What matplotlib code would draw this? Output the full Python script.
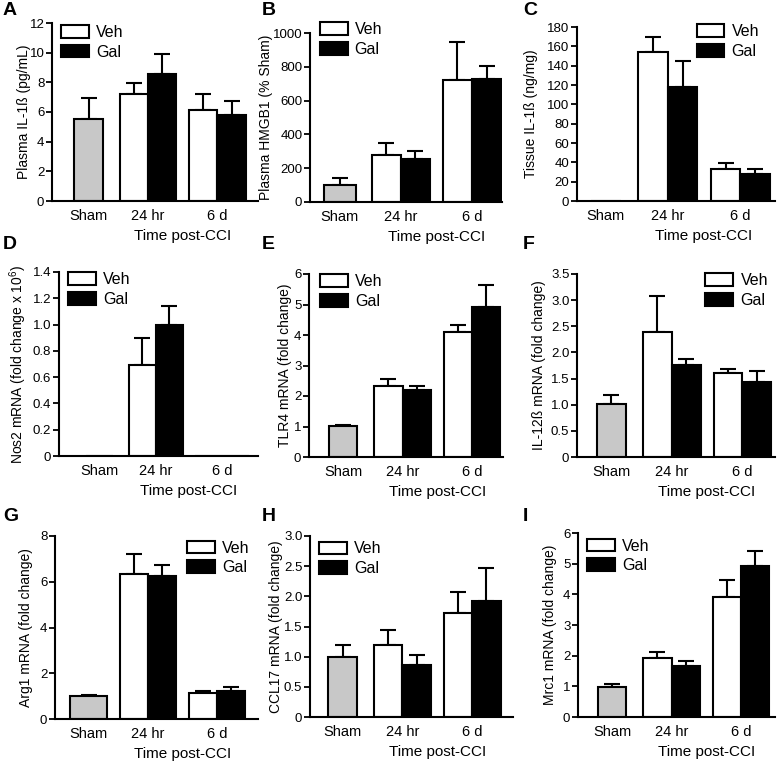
import matplotlib

matplotlib.use("Agg")
import matplotlib.pyplot as plt
from matplotlib.patches import Patch
from matplotlib.ticker import FuncFormatter, MultipleLocator

plt.rcParams["font.family"] = ["Liberation Sans", "DejaVu Sans"]
plt.rcParams["mathtext.fontset"] = "custom"
plt.rcParams["mathtext.rm"] = "Liberation Sans"

# bar order in every panel: Sham, Veh 24 hr, Gal 24 hr, Veh 6 d, Gal 6 d
GROUP_LABELS = ["Sham", "24 hr", "6 d"]
LEGEND_LABELS = ["Veh", "Gal"]

PLASMA_IL1B_MEAN = [5.54, 7.20, 8.56, 6.15, 5.77]
PLASMA_IL1B_SEM = [1.39, 0.78, 1.38, 1.09, 0.96]
PLASMA_HMGB1_MEAN = [99, 277, 255, 723, 729]
PLASMA_HMGB1_SEM = [44, 75, 46, 224, 75]
TISSUE_IL1B_MEAN = [0, 154.5, 117.7, 33.3, 28.1]
TISSUE_IL1B_SEM = [0, 15.5, 27.1, 5.6, 4.5]
NOS2_MEAN = [0, 0.69, 0.995, 0, 0]
NOS2_SEM = [0, 0.21, 0.15, 0, 0]
TLR4_MEAN = [1.01, 2.32, 2.20, 4.09, 4.93]
TLR4_SEM = [0.03, 0.25, 0.14, 0.24, 0.71]
IL12B_MEAN = [1.01, 2.39, 1.76, 1.61, 1.44]
IL12B_SEM = [0.17, 0.69, 0.12, 0.08, 0.21]
ARG1_MEAN = [0.99, 6.33, 6.23, 1.13, 1.22]
ARG1_SEM = [0.04, 0.88, 0.50, 0.11, 0.16]
CCL17_MEAN = [0.99, 1.19, 0.86, 1.72, 1.92]
CCL17_SEM = [0.21, 0.25, 0.17, 0.36, 0.55]
MRC1_MEAN = [0.98, 1.92, 1.67, 3.90, 4.91]
MRC1_SEM = [0.08, 0.20, 0.15, 0.57, 0.51]

W, H = 780, 762
BAR_X = [0, 1.6, 2.6, 4.05, 5.05]
GROUP_X = [0, 2.1, 4.55]
FACES = ["#c8c8c8", "white", "black", "white", "black"]

PANELS = [
    # letter, letter pos, axes px box, data, ymax, step, decimals, ylabel, ylabel offset px,
    # xlim, legend (loc, x, y), sham width
    ("A", (3, 2), (52, 23, 258, 201), PLASMA_IL1B_MEAN, PLASMA_IL1B_SEM, 12, 2, 0,
     "Plasma IL-1ß (pg/mL)", 27, (-1.29, 5.98), ("upper left", 0.044, 0.99), 1.0),
    ("B", (262, 2), (310, 33, 502, 202), PLASMA_HMGB1_MEAN, PLASMA_HMGB1_SEM, 1000, 200, 0,
     "Plasma HMGB1 (% Sham)", 43, (-1.02, 5.58), ("upper left", 0.05, 1.065), 1.1),
    ("C", (523, 2), (577, 27, 775, 201), TISSUE_IL1B_MEAN, TISSUE_IL1B_SEM, 180, 20, 0,
     "Tissue IL-1ß (ng/mg)", 45, (-0.97, 5.72), ("upper right", 0.92, 1.015), 1.0),
    ("D", (3, 236), (59, 272, 258, 456), NOS2_MEAN, NOS2_SEM, 1.4, 0.2, 1,
     "Nos2 mRNA (fold change x 10$^{\\mathregular{6}}$)", 36, (-1.49, 5.88),
     ("upper left", 0.045, 1.0), 1.0),
    ("E", (262, 236), (309, 274, 503, 457), TLR4_MEAN, TLR4_SEM, 6, 1, 0,
     "TLR4 mRNA (fold change)", 23, (-1.21, 5.65), ("upper left", 0.057, 1.0), 1.0),
    ("F", (523, 236), (577, 274, 775, 457), IL12B_MEAN, IL12B_SEM, 3.5, 0.5, 1,
     "IL-12ß mRNA (fold change)", 37, (-1.2, 5.69), ("upper right", 0.965, 1.005), 1.0),
    ("G", (3, 508), (55, 536, 258, 719), ARG1_MEAN, ARG1_SEM, 8, 2, 0,
     "Arg1 mRNA (fold change)", 28, (-1.19, 6.01), ("upper right", 0.96, 0.975), 1.3),
    ("H", (262, 508), (310, 536, 513, 717), CCL17_MEAN, CCL17_SEM, 3.0, 0.5, 1,
     "CCL17 mRNA (fold change)", 33, (-1.14, 5.98), ("upper left", 0.045, 0.97), 1.0),
    ("I", (523, 508), (578, 533, 775, 717), MRC1_MEAN, MRC1_SEM, 6, 1, 0,
     "Mrc1 mRNA (fold change)", 27, (-1.21, 5.76), ("upper left", 0.045, 0.97), 1.0),
]


def _fmt(decimals):
    def f(v, _pos):
        if abs(v) < 1e-9:
            return "0"
        return f"{v:.{decimals}f}"
    return FuncFormatter(f)


def draw_panel(fig, spec):
    (letter, lpos, box, mean, sem, ymax, step, decimals, ylabel, yoff, xlim, legend,
     sham_w) = spec
    x0, y0, x1, y1 = box
    ax = fig.add_axes([x0 / W, 1 - y1 / H, (x1 - x0) / W, (y1 - y0) / H])
    widths = [sham_w, 1, 1, 1, 1]
    ax.bar(BAR_X, mean, width=widths, color=FACES, edgecolor="black", linewidth=1.5, zorder=2)
    for x, m, s in zip(BAR_X, mean, sem):
        if s > 0:
            ax.errorbar(x, m, yerr=[[0], [s]], fmt="none", ecolor="black",
                        elinewidth=1.5, capsize=6, capthick=1.5, zorder=1)
    ax.set_xlim(*xlim)
    ax.set_ylim(0, ymax)
    ax.yaxis.set_major_locator(MultipleLocator(step))
    ax.yaxis.set_major_formatter(_fmt(decimals))
    ax.set_xticks(GROUP_X)
    ax.set_xticklabels(GROUP_LABELS)
    ax.tick_params(axis="x", length=0, labelsize=10.5, pad=6)
    ax.tick_params(axis="y", length=4, width=1.3, labelsize=9.5, pad=1.5)
    for side in ("top", "right"):
        ax.spines[side].set_visible(False)
    for side in ("left", "bottom"):
        ax.spines[side].set_linewidth(1.5)
    ax.set_ylabel(ylabel, fontsize=10)
    # label anchor is its right edge, about 6 px right of the text centre
    ax.yaxis.set_label_coords(-(yoff - 6) / (x1 - x0), 0.5)
    ax.set_xlabel("Time post-CCI", fontsize=11, labelpad=4)
    center = (GROUP_X[1] + GROUP_X[2]) / 2
    ax.xaxis.label.set_x((center - xlim[0]) / (xlim[1] - xlim[0]))
    handles = [Patch(facecolor="white", edgecolor="black", linewidth=1.5),
               Patch(facecolor="black", edgecolor="black", linewidth=1.5)]
    loc, lx, ly = legend
    ax.legend(handles, LEGEND_LABELS, loc=loc, bbox_to_anchor=(lx, ly), frameon=False,
              fontsize=11.5, handlelength=1.75, handleheight=0.85, labelspacing=0.3,
              handletextpad=0.45, borderpad=0, borderaxespad=0)
    fig.text(lpos[0] / W, 1 - lpos[1] / H, letter, fontsize=14, fontweight="bold",
             ha="left", va="top")


fig = plt.figure(figsize=(W / 100, H / 100), dpi=100)
for spec in PANELS:
    draw_panel(fig, spec)
fig.savefig("out.png", dpi=100)
